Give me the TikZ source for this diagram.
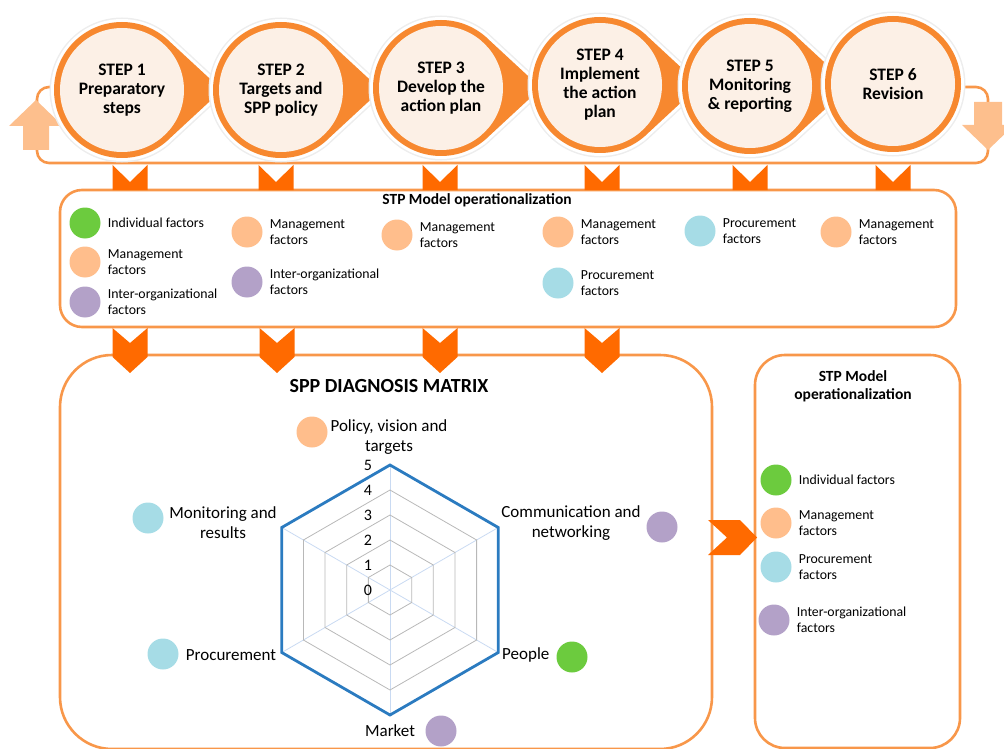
\documentclass[tikz,border=0pt]{standalone}
\usepackage{fontspec}
\setmainfont{Carlito}
\usetikzlibrary{positioning}
\definecolor{stepring}{HTML}{F7882F}
\definecolor{stepfill}{HTML}{FCF0E6}
\definecolor{boxorange}{HTML}{F8974A}
\definecolor{chevorange}{HTML}{FF6A00}
\definecolor{paleorange}{HTML}{FDBF8D}
\definecolor{indgreen}{HTML}{6CCB3E}
\definecolor{mgmtpeach}{HTML}{FFBE8C}
\definecolor{procblue}{HTML}{A6DCE6}
\definecolor{interpurple}{HTML}{B3A1C8}
\definecolor{radarblue}{HTML}{2B7BC0}
\definecolor{spokeblue}{HTML}{C9DAF2}
\tikzset{
  halo/.style={draw=white, fill=white, line width=6pt},
  shade/.style={draw=black!7, line width=9pt},
  stepnode/.style={circle, fill=stepfill, minimum size=124pt, inner sep=0pt, align=center,
    font=\bfseries\fontsize{17.5}{19}\selectfont},
  boxline/.style={draw=boxorange, line width=2.6pt},
  factor/.style={circle, minimum size=31pt, inner sep=0pt},
  factxt/.style={align=left, inner sep=0pt, font=\fontsize{13.8}{16}\selectfont},
  radartxt/.style={align=center, inner sep=0pt, font=\fontsize{17}{20}\selectfont},
  boxtitle/.style={align=center, inner sep=0pt, font=\bfseries\fontsize{15.5}{18}\selectfont},
  gridline/.style={draw=black!28, line width=0.8pt},
  spoke/.style={draw=spokeblue, line width=0.8pt},
  radarline/.style={draw=radarblue, line width=2.8pt, line join=miter}
}
\begin{document}
\begin{tikzpicture}[x=1pt, y=-1pt]
  \useasboundingbox (0,0) rectangle (1004,749);

  \draw[boxorange, line width=2.6pt, rounded corners=12pt] (37,87) rectangle (988,163);
  \fill[paleorange] (23,150) -- (23,126) -- (9,126) -- (36,100) -- (63,126) -- (49,126) -- (49,150) -- cycle;
  \fill[paleorange] (974,102) -- (974,125) -- (962,125) -- (988,150) -- (1014,125) -- (1002,125) -- (1002,102) -- cycle;

  \foreach \n/\cx/\cy/\tip/\txt in {
    1/122/90/1/{STEP 1\\Preparatory\\steps},
    2/281/90/1/{STEP 2\\Targets and\\SPP policy},
    3/441/88/1/{STEP 3\\Develop the\\action plan},
    4/600/85/1/{STEP 4\\Implement\\the action\\plan},
    5/750/86/1/{STEP 5\\Monitoring\\\& reporting},
    6/893/84/0/{STEP 6\\Revision}} {
    \ifnum\tip=1
      \draw[shade] (\cx,\cy) circle[radius=68] (\cx+46,\cy-50) -- (\cx+100,\cy) -- (\cx+46,\cy+50);
      \filldraw[halo] (\cx,\cy) circle[radius=68] (\cx+46,\cy-50) -- (\cx+100,\cy) -- (\cx+46,\cy+50) -- cycle;
      \fill[stepring] (\cx,\cy) circle[radius=68] (\cx+46,\cy-50) -- (\cx+100,\cy) -- (\cx+46,\cy+50) -- cycle;
    \else
      \draw[shade] (\cx,\cy) circle[radius=68];
      \filldraw[halo] (\cx,\cy) circle[radius=68];
      \fill[stepring] (\cx,\cy) circle[radius=68];
    \fi
    \node[stepnode] (s\n) at (\cx,\cy) {\txt};
  }

  \draw[boxline, rounded corners=22pt] (60,190) rectangle (956,327);
  \draw[boxline, rounded corners=52pt] (60,355) rectangle (712,749);
  \draw[boxline, rounded corners=30pt] (755,355) rectangle (960,748);

  \foreach \x in {130,276,440,602,750,893}
    \fill[chevorange] (\x-17.5,165) -- (\x,182) -- (\x+17.5,165) -- (\x+17.5,190) -- (\x-17.5,190) -- cycle;
  \foreach \x in {130,277,440,602}
    \fill[chevorange] (\x-17.5,328) -- (\x,343) -- (\x+17.5,328) -- (\x+17.5,357) -- (\x,373) -- (\x-17.5,357) -- cycle;
  \fill[chevorange] (708,520) -- (740,520) -- (757,537.5) -- (740,555) -- (708,555) -- (727,537.5) -- cycle;

  \node[boxtitle] (midtitle) at (477,200) {STP Model operationalization};
  \foreach \nm/\x/\y/\col/\txt in {
    i1/85/223/indgreen/{Individual factors},
    i2/85/262/mgmtpeach/{Management\\factors},
    i3/85/302/interpurple/{Inter-organizational\\factors},
    i4/247/232/mgmtpeach/{Management\\factors},
    i5/247/282/interpurple/{Inter-organizational\\factors},
    i6/397/235/mgmtpeach/{Management\\factors},
    i7/558/232/mgmtpeach/{Management\\factors},
    i8/558/283/procblue/{Procurement\\factors},
    i9/700/231/procblue/{Procurement\\factors},
    i10/836/232/mgmtpeach/{Management\\factors},
    r1/776/480/indgreen/{Individual factors},
    r2/776/523/mgmtpeach/{Management\\factors},
    r3/776/567/procblue/{Procurement\\factors},
    r4/774/620/interpurple/{Inter-organizational\\factors}} {
    \node[factor, fill=\col] (\nm) at (\x,\y) {};
    \node[factxt, right=7pt of \nm] (\nm t) {\txt};
  }
  \node[boxtitle] (righttitle) at (853,386) {STP Model\\operationalization};

  \node[font=\bfseries\fontsize{20}{22}\selectfont] (mattitle) at (389,386) {SPP DIAGNOSIS MATRIX};

  \begin{scope}[shift={(390,590)}]
    \foreach \a in {30,90,...,330}
      \draw[spoke] (0,0) -- (\a:125pt);
    \foreach \k in {1,...,4} {
      \pgfmathsetmacro\rr{25*\k}
      \draw[gridline] (90:\rr pt) -- (150:\rr pt) -- (210:\rr pt) -- (270:\rr pt) -- (330:\rr pt) -- (30:\rr pt) -- cycle;
    }
    \draw[radarline] (90:125pt) -- (150:125pt) -- (210:125pt) -- (270:125pt) -- (330:125pt) -- (30:125pt) -- cycle;
    \foreach \k in {0,...,5}
      \node[inner sep=0pt, font=\fontsize{16}{18}\selectfont] (n\k) at (-22,-25*\k) {\k};
  \end{scope}

  \node[radartxt] (policy) at (389,437) {Policy, vision and\\targets};
  \node[factor, fill=mgmtpeach] (cpolicy) at (312,432) {};
  \node[radartxt] (comm) at (571,523) {Communication and\\networking};
  \node[factor, fill=interpurple] (ccomm) at (662,527) {};
  \node[radartxt, anchor=west] (people) at (502,655) {People};
  \node[factor, fill=indgreen] (cpeople) at (572,657) {};
  \node[radartxt] (market) at (390,731) {Market};
  \node[factor, fill=interpurple] (cmarket) at (441,731) {};
  \node[radartxt] (procure) at (231,655) {Procurement};
  \node[factor, fill=procblue] (cprocure) at (163,654) {};
  \node[radartxt] (monitor) at (223,523) {Monitoring and\\results};
  \node[factor, fill=procblue] (cmonitor) at (148,518) {};
\end{tikzpicture}
\end{document}
